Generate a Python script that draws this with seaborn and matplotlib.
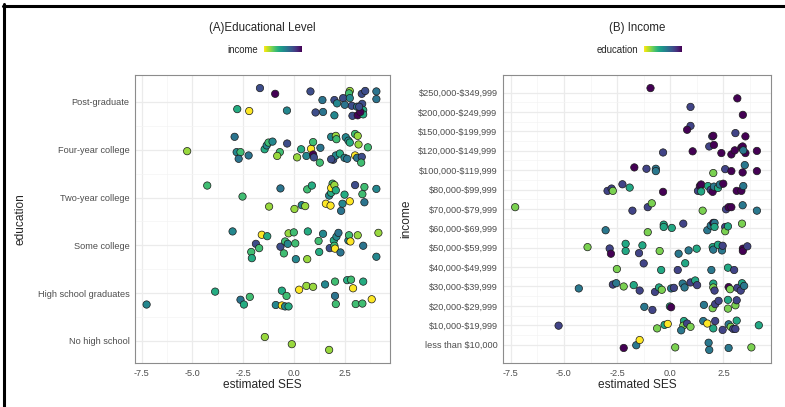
"""
SES estimado por nível educacional e por renda
"""

import numpy as np
import pandas as pd
import matplotlib.pyplot as plt
import matplotlib.lines as mlines
from matplotlib.ticker import MultipleLocator, FixedLocator
import seaborn as sns

edu_labels = ["No high school", "High school graduates", "Some college",
              "Two-year college", "Four-year college", "Post-graduate"]
income_labels = ["less than $10,000", "$10,000-$19,999", "$20,000-$29,999",
                 "$30,000-$39,999", "$40,000-$49,999", "$50,000-$59,999",
                 "$60,000-$69,999", "$70,000-$79,999", "$80,000-$99,999",
                 "$100,000-$119,999", "$120,000-$149,999", "$150,000-$199,999",
                 "$200,000-$249,999", "$250,000-$349,999"]

# Painel A: ses, nível educacional (0-5), jitter vertical, renda (1-14)
a_ses = [
    # Post-graduate
    -1.67, -0.92, 0.82, -2.79, -2.20, -0.34, 1.41, 1.07, 1.44, 2.00, 2.13, 2.43, 2.51,
    2.00, 2.76, 2.72, 2.76, 2.86, 3.12, 3.35, 3.52, 4.07, 4.07, 3.37, 3.42, 2.89, 3.15,
    3.42, 3.28, 3.22,
    # Four-year college
    -5.26, -2.92, -2.82, -2.63, -2.72, -2.23, -1.44, -1.34, -1.25, -1.05, -0.69, -0.82,
    -0.33, 0.16, 0.36, 0.62, 0.85, 0.95, 0.95, 0.99, 1.31, 1.28, 1.84, 2.07, 2.10, 1.94,
    2.07, 1.84, 2.27, 2.56, 2.69, 2.76, 2.50, 2.63, 3.02, 3.15, 3.19, 3.02, 3.12, 3.35,
    3.32, 3.65,
    # Two-year college
    -4.27, -2.53, -1.22, -0.66, 0.03, 0.39, 0.56, 0.66, 0.89, 1.58, 1.81, 1.74, 1.84,
    1.91, 1.84, 2.00, 2.07, 2.40, 2.33, 2.50, 2.76, 3.02, 3.38, 3.48, 3.48, 4.07,
    # Some college
    -3.02, -1.87, -2.10, -2.07, -1.71, -1.58, -1.31, -0.66, -0.49, -0.43, -0.30, -0.26,
    0.00, 0.07, 0.10, 0.66, 0.69, 1.22, 1.25, 1.44, 1.77, 1.97, 2.00, 2.03, 2.10, 2.20,
    2.30, 2.69, 2.72, 2.79, 3.15, 3.42, 4.07, 4.17,
    # High school graduates
    -7.26, -3.88, -2.63, -2.46, -2.17, -0.89, -0.59, -0.59, -0.36, -0.43, -0.26, 0.26,
    0.62, 0.95, 1.54, 2.03, 2.03, 2.07, 2.63, 2.82, 2.92, 3.05, 3.42, 3.38, 3.84,
    # No high school
    -1.43, -0.10, 1.74,
]
a_edu = [5] * 30 + [4] * 42 + [3] * 26 + [2] * 34 + [1] * 25 + [0] * 3
a_jit = [
    0.29, 0.17, 0.22, -0.15, -0.19, -0.18, 0.04, -0.22, -0.21, 0.04, -0.03, 0.08, -0.06,
    -0.28, 0.23, 0.18, 0.08, -0.08, -0.10, 0.17, 0.23, 0.22, 0.06, -0.04, -0.17, -0.29,
    -0.28, -0.26, -0.21, -0.10,
    -0.03, 0.27, -0.05, -0.05, -0.19, -0.12, 0.01, 0.09, 0.15, 0.17, -0.05, -0.13,
    0.13, -0.16, 0.01, -0.13, 0.02, 0.16, -0.10, -0.16, 0.04, -0.27, 0.27, 0.29, 0.22,
    -0.21, -0.12, -0.20, -0.08, 0.26, 0.19, 0.15, -0.17, -0.19, 0.33, 0.29, 0.11, -0.12,
    -0.17, -0.15, -0.27, 0.05,
    0.25, 0.02, -0.19, 0.19, -0.24, -0.16, -0.18, 0.17, 0.25, -0.13, -0.17, 0.04, 0.10,
    0.29, 0.20, 0.26, 0.15, -0.13, -0.28, 0.06, -0.08, 0.26, 0.07, 0.22, -0.10, 0.18,
    0.29, 0.03, -0.14, -0.27, -0.06, 0.22, 0.19, -0.03, -0.17, 0.08, 0.03, 0.25,
    0.27, 0.04, -0.29, -0.29, 0.29, 0.09, -0.14, 0.24, -0.06, 0.10, -0.01, -0.07, 0.18,
    0.26, -0.15, 0.10, 0.21, 0.08, 0.21, -0.01, -0.24, 0.26,
    -0.24, 0.03, -0.14, -0.24, -0.08, -0.25, -0.26, 0.05, -0.06, -0.28, -0.28, 0.07,
    0.15, 0.13, 0.18, 0.24, -0.06, -0.23, 0.27, 0.28, 0.10, -0.23, 0.24, -0.22, -0.13,
    0.08, -0.07, -0.19,
]
a_inc = [
    11, 14, 11, 6, 1, 8, 9, 11, 9, 11, 8, 11, 9, 8, 3, 5, 8, 11, 9, 11, 11, 9, 9, 11,
    6, 11, 14, 6, 14, 11,
    3, 9, 8, 5, 9, 9, 6, 8, 5, 8, 5, 3, 11, 3, 6, 8, 1, 5, 14, 11, 9, 5, 8, 3, 5, 11,
    8, 11, 6, 8, 8, 6, 8, 9, 5, 3, 3, 1, 9, 11, 5, 5,
    5, 5, 3, 9, 3, 8, 3, 5, 6, 1, 1, 8, 6, 5, 1, 3, 6, 8, 9, 6, 1, 11, 5, 5, 9, 8,
    8, 11, 5, 6, 5, 1, 6, 11, 5, 5, 8, 3, 5, 5, 8, 3, 6, 5, 6, 8, 11, 6, 5, 1, 8, 9,
    9, 8, 5, 1, 3, 9, 8, 3,
    8, 6, 9, 6, 5, 8, 1, 6, 5, 8, 6, 1, 3, 3, 8, 5, 9, 5, 6, 5, 1, 5, 6, 5, 1,
    3, 3, 3,
]

# Painel B: ses, faixa de renda (0-13), jitter vertical, educação (1-6)
b_ses = [
    -0.93, 3.15,
    0.95, 3.41,
    0.95, 0.79, 1.97, 2.02, 3.06, 3.53,
    -0.34, 1.05, 1.83, 2.05, 2.40, 2.87, 3.03, 3.34, 3.40, 3.53, 3.43, 4.07,
    -1.69, -1.12, -0.68, -0.68, 2.02, 2.58, 2.87, 3.40, 3.50, 4.07,
    -2.95, -2.76, -2.70, -2.25, -1.91, -0.34, 1.30, 1.39, 1.45, 1.45, 1.77, 1.90, 1.99,
    2.05, 2.24, 2.33, 2.49, 3.12, 3.34, 3.43,
    -7.29, -1.78, -1.06, -0.87, 1.52, 2.62, 2.74, 2.87, 3.40, 4.07,
    -3.04, -1.06, -0.31, -0.31, 0.07, 0.61, 1.74, 1.90, 2.02, 2.08, 2.08, 2.58, 2.58,
    2.71, 3.37,
    -3.89, -2.85, -2.79, -2.10, -2.10, -1.47, -1.31, -0.50, 0.39, 0.86, 1.24, 1.99, 2.02,
    2.24, 2.43, 2.46, 3.41, 3.41, 3.62,
    -2.51, -1.25, -0.43, 0.35, 0.70, 1.93, 2.71, 3.00,
    -4.30, -2.70, -2.54, -2.19, -1.72, -1.44, -0.72, -0.53, -0.40, 0.04, 0.17, 0.58, 0.67,
    0.95, 1.17, 1.26, 2.02, 2.02, 2.08, 2.74, 2.81, 3.15, 3.31, 3.37, 3.47,
    -1.22, -0.84, -0.02, 0.04, 1.58, 1.99, 2.11, 2.27, 2.71, 2.71, 3.06, 3.12,
    -5.25, -0.62, -0.27, -0.12, 0.64, 0.61, 0.51, 0.79, 0.95, 1.55, 1.74, 2.02, 2.11,
    2.46, 2.74, 2.84, 2.96, 3.06, 3.12, 4.16,
    -2.19, -1.60, -1.44, 0.23, 1.80, 1.83, 2.74, 3.81,
]
b_inc = ([13] * 2 + [12] * 2 + [11] * 6 + [10] * 12 + [9] * 10 + [8] * 20 + [7] * 10
         + [6] * 15 + [5] * 19 + [4] * 8 + [3] * 25 + [2] * 12 + [1] * 20 + [0] * 8)
b_jit = [
    0.23, -0.30,
    0.26, -0.15,
    0.28, 0.08, -0.26, -0.23, -0.09, -0.26,
    -0.09, -0.03, 0.22, 0.30, -0.12, -0.19, 0.02, 0.17, 0.22, -0.12, 0.02, -0.01,
    0.14, 0.07, 0.07, -0.05, -0.15, 0.05, -0.05, -0.12, 0.26, -0.05,
    -0.07, 0.05, -0.07, 0.27, 0.10, -0.12, -0.07, 0.18, 0.26, -0.10, 0.18, -0.02, -0.12,
    0.15, 0.08, 0.26, 0.30, -0.07, -0.07, 0.18,
    0.09, -0.09, 0.09, 0.29, -0.09, -0.02, 0.09, 0.09, 0.19, -0.09,
    -0.10, -0.20, 0.19, 0.07, 0.02, 0.24, -0.10, 0.14, 0.28, 0.28, 0.07, 0.07, -0.15,
    0.10, 0.24,
    0.03, -0.04, -0.31, 0.20, -0.17, -0.28, 0.12, -0.17, -0.31, -0.14, -0.05, 0.03, -0.10,
    0.15, -0.14, 0.10, -0.05, -0.17, 0.07,
    -0.10, 0.19, -0.15, -0.15, 0.20, -0.15, -0.03, -0.15,
    -0.10, 0.10, 0.17, 0.00, 0.07, -0.21, -0.28, -0.05, -0.17, -0.10, -0.07, 0.15, -0.05,
    0.21, 0.31, 0.07, 0.15, -0.05, -0.21, -0.03, -0.14, -0.07, -0.21, 0.17, 0.03,
    -0.05, -0.21, -0.03, -0.07, 0.05, -0.12, 0.09, 0.26, 0.31, -0.14, 0.03, 0.29,
    -0.02, -0.16, 0.02, 0.07, 0.22, -0.02, -0.26, 0.09, -0.08, 0.22, 0.09, -0.16, 0.22,
    -0.24, 0.05, -0.08, -0.19, -0.19, 0.24, 0.00,
    -0.17, -0.03, 0.24, -0.14, 0.10, -0.27, -0.17, -0.14,
]
b_edu = [
    6, 6,
    5, 6,
    5, 6, 5, 6, 5, 6,
    5, 6, 5, 6, 6, 6, 6, 6, 6, 6, 4, 6,
    6, 5, 4, 4, 2, 5, 6, 6, 4, 6,
    5, 5, 2, 5, 3, 6, 5, 6, 6, 3, 3, 5, 6, 4, 3, 4, 6, 6, 6, 4,
    2, 5, 5, 2, 2, 5, 6, 6, 4, 4,
    4, 2, 3, 3, 3, 5, 4, 4, 6, 4, 3, 5, 2, 3, 2,
    2, 5, 6, 3, 3, 5, 3, 2, 4, 4, 3, 3, 4, 3, 4, 5, 6, 6, 5,
    2, 5, 3, 5, 3, 4, 3, 5,
    4, 5, 4, 2, 3, 5, 5, 3, 2, 4, 5, 4, 4, 5, 3, 5, 3, 2, 5, 6, 2, 5, 5, 3, 4,
    4, 5, 3, 6, 4, 2, 5, 5, 3, 2, 2, 5,
    5, 2, 3, 1, 3, 2, 4, 5, 2, 4, 1, 3, 5, 5, 4, 2, 5, 5, 3, 3,
    6, 4, 1, 2, 4, 4, 4, 2,
]

df_a = pd.DataFrame({"ses": a_ses, "y": np.array(a_edu) + np.array(a_jit), "income": a_inc})
df_b = pd.DataFrame({"ses": b_ses, "y": np.array(b_inc) + np.array(b_jit), "education": b_edu})

sns.set_style("white")
plt.rcParams["font.family"] = ["Liberation Sans", "DejaVu Sans"]
plt.rcParams["text.parse_math"] = False

fig = plt.figure(figsize=(7.85, 4.07), dpi=100)
ax_a = fig.add_axes([135 / 785, 44 / 407, 255 / 785, 288 / 407])
ax_b = fig.add_axes([503 / 785, 44 / 407, 268 / 785, 288 / 407])

sns.scatterplot(data=df_a, x="ses", y="y", hue="income", palette="viridis_r",
                hue_norm=(1, 14), s=28, edgecolor="#1a1a1a", linewidth=0.5,
                legend=False, ax=ax_a, zorder=3)
sns.scatterplot(data=df_b, x="ses", y="y", hue="education", palette="viridis_r",
                hue_norm=(1, 6), s=28, edgecolor="#1a1a1a", linewidth=0.5,
                legend=False, ax=ax_b, zorder=3)

for ax, labels in [(ax_a, edu_labels), (ax_b, income_labels)]:
    ax.set_axisbelow(True)
    ax.xaxis.set_major_locator(MultipleLocator(2.5))
    ax.xaxis.set_minor_locator(MultipleLocator(1.25))
    ax.xaxis.set_major_formatter(lambda v, p: f"{v:.1f}")
    ax.yaxis.set_major_locator(FixedLocator(range(len(labels))))
    ax.yaxis.set_minor_locator(FixedLocator(np.arange(len(labels) - 1) + 0.5))
    ax.set_yticklabels(labels)
    ax.grid(which="major", color="#ebebeb", lw=0.9)
    ax.grid(which="minor", color="#f4f4f4", lw=0.5)
    ax.tick_params(which="major", length=2.5, width=0.6, color="#333333",
                   labelsize=6.6, labelcolor="#4d4d4d", pad=1.5)
    ax.tick_params(which="minor", length=0)
    for sp in ax.spines.values():
        sp.set_color("#8c8c8c")
        sp.set_linewidth(0.8)
    ax.set_xlabel("estimated SES", fontsize=8.6)
    ax.xaxis.set_label_coords(0.5, -0.055)

ax_a.set_ylabel("education", fontsize=8.6)
ax_a.yaxis.set_label_coords(-0.425, 0.5)
ax_b.set_ylabel("income", fontsize=8.6)
ax_b.yaxis.set_label_coords(-0.34, 0.5)

# títulos e legendas de cor
fig.text(262 / 785, 1 - 28 / 407, "(A)Educational Level", ha="center", va="center", fontsize=8.3)
fig.text(637 / 785, 1 - 28 / 407, "(B) Income", ha="center", va="center", fontsize=8.3)

grad = np.linspace(0, 1, 100).reshape(1, -1)
for txt, xt, xb in [("income", 258, 264), ("education", 638, 644)]:
    fig.text(xt / 785, 1 - 50 / 407, txt, ha="right", va="center", fontsize=6.9)
    cax = fig.add_axes([xb / 785, 1 - 52.5 / 407, 38 / 785, 7 / 407])
    cax.imshow(grad, aspect="auto", cmap="viridis_r")
    cax.set_axis_off()

# moldura preta (topo e esquerda)
fig.add_artist(mlines.Line2D([3 / 785, 1], [1 - 5.5 / 407] * 2, transform=fig.transFigure,
                             color="black", lw=2.2))
fig.add_artist(mlines.Line2D([4 / 785] * 2, [0, 1 - 4 / 407], transform=fig.transFigure,
                             color="black", lw=2.2))

fig.savefig("out.png", dpi=100)
